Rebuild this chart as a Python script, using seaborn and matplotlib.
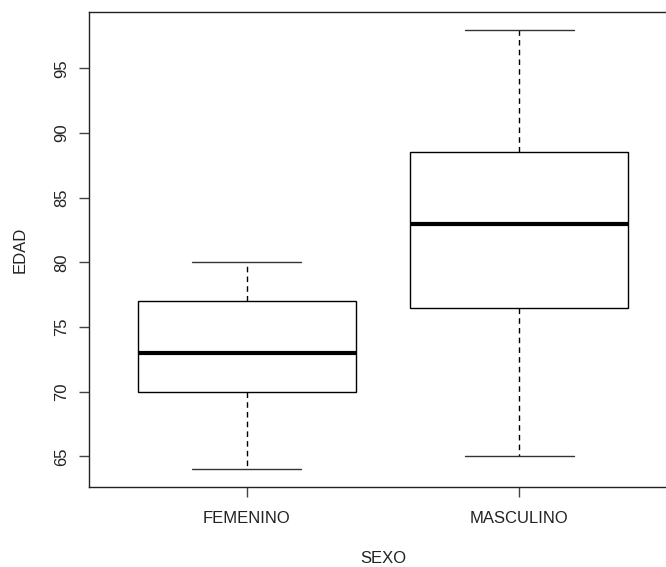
import matplotlib
matplotlib.use("Agg")
import matplotlib.pyplot as plt
import seaborn as sns
import pandas as pd

# Five-number summaries of age per sex (min, Q1, median, Q3, max)
sexo = ["FEMENINO", "MASCULINO"]
edad_femenino = [64, 70, 73, 77, 80]
edad_masculino = [65, 76.5, 83, 88.5, 98]

df = pd.DataFrame({
    "SEXO": [sexo[0]] * len(edad_femenino) + [sexo[1]] * len(edad_masculino),
    "EDAD": edad_femenino + edad_masculino,
})

sns.set_theme(style="white")
plt.rcParams["font.family"] = ["Liberation Sans", "DejaVu Sans"]

fig = plt.figure(figsize=(6.66, 5.67), dpi=100)
ax = fig.add_axes([89 / 666, 80 / 567, 588 / 666, 475 / 567])

sns.boxplot(
    data=df, x="SEXO", y="EDAD", order=sexo, ax=ax,
    width=0.8, whis=1.5, fill=True, color="white", linecolor="black",
    linewidth=1.0,
    boxprops=dict(linewidth=1.0, edgecolor="black", facecolor="white"),
    whiskerprops=dict(linestyle=(0, (4, 3)), linewidth=1.0, color="black"),
    capprops=dict(linewidth=1.0, color="#333333"),
    medianprops=dict(linewidth=3.0, color="black"),
)

ax.set_xlim(-0.58, 1.58)
ax.set_ylim(62.64, 99.36)
ax.set_yticks([65, 70, 75, 80, 85, 90, 95])
ax.set_yticklabels(["65", "70", "75", "80", "85", "90", "95"], rotation=90, va="center")

for s in ax.spines.values():
    s.set_visible(True)
    s.set_color("#222222")
    s.set_linewidth(1.0)

ax.tick_params(axis="both", which="major", direction="out", length=7.5, width=1.0,
               color="#444444", labelsize=12, labelcolor="#222222",
               left=True, bottom=True)
ax.tick_params(axis="y", pad=7)
ax.tick_params(axis="x", pad=10)

ax.set_xlabel("SEXO", fontsize=12, color="#222222", labelpad=18)
ax.set_ylabel("EDAD", fontsize=12, color="#222222", labelpad=19)
ax.grid(False)

fig.savefig("out.png", dpi=100)
